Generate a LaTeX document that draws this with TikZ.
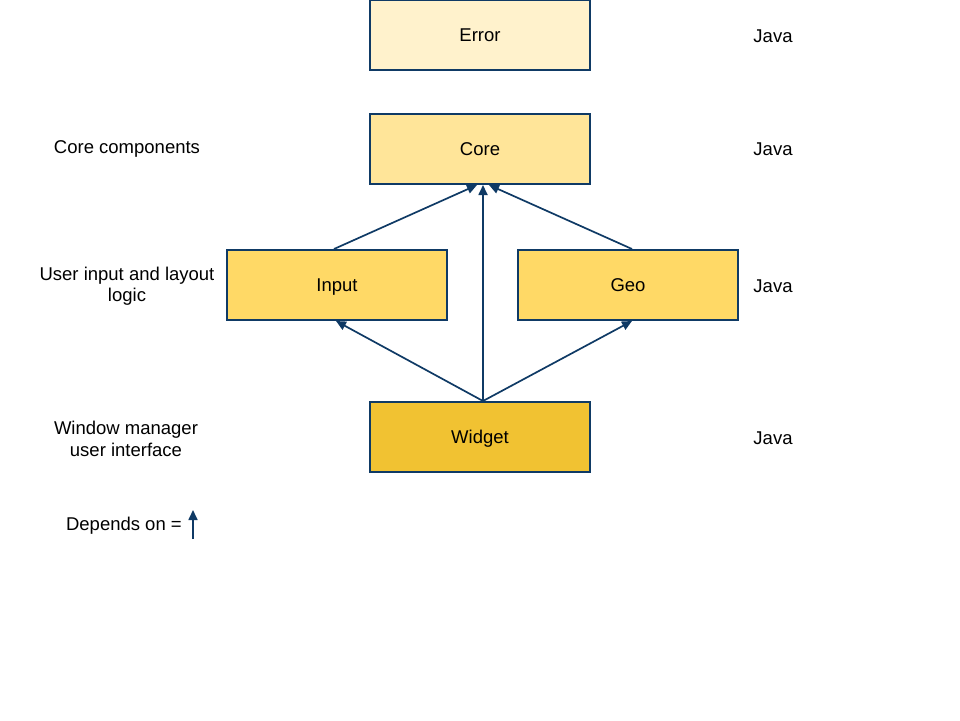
\documentclass[tikz,border=0pt]{standalone}
\usepackage{fontspec}
\setmainfont{Liberation Sans}
\usetikzlibrary{arrows.meta}
\definecolor{bordc}{HTML}{0F3A65}
\definecolor{errc}{HTML}{FFF2CC}
\definecolor{corec}{HTML}{FFE599}
\definecolor{midc}{HTML}{FFD966}
\definecolor{widc}{HTML}{F1C232}
\begin{document}
\begin{tikzpicture}[x=1pt,y=-1pt,
  box/.style={draw=bordc, line width=2pt, minimum width=220pt, minimum height=70pt, inner sep=0pt, text height=13pt, text depth=0pt, font=\fontsize{18.5}{22}\selectfont},
  lbl/.style={align=center, font=\fontsize{18.5}{21.5}\selectfont, inner sep=0pt},
  dep/.style={draw=bordc, line width=1.7pt, -{Triangle[length=10pt,width=9pt]}}]
\useasboundingbox (0,0) rectangle (960,720);
\node[box, fill=errc] (error) at (480,35) {Error};
\node[box, fill=corec] (core) at (480,148.5) {Core};
\node[box, fill=midc] (input) at (337,285) {Input};
\node[box, fill=midc] (geo) at (628,285) {Geo};
\node[box, fill=widc] (widget) at (480,437) {Widget};
\coordinate (wt) at (483,401);
\coordinate (ct) at (483,185);
\coordinate (cl) at (477,185);
\coordinate (cr) at (489,185);
\coordinate (it) at (334,249);
\coordinate (ib) at (336,321);
\coordinate (gt) at (632,249);
\coordinate (gb) at (632,321);
\draw[dep] (wt) -- (ib);
\draw[dep] (wt) -- (gb);
\draw[dep] (wt) -- (ct);
\draw[dep] (it) -- (cl);
\draw[dep] (gt) -- (cr);
\node[lbl] (lcore) at (127,149) {Core components};
\node[lbl] (linput) at (127,286) {User input and layout\\logic};
\node[lbl] (lwid) at (126,439) {Window manager\\user interface};
\node[lbl, anchor=east] (ldep) at (182,526) {Depends on =};
\coordinate (la) at (193,539);
\coordinate (lb) at (193,510);
\draw[dep] (la) -- (lb);
\node[lbl] (j1) at (773,36) {Java};
\node[lbl] (j2) at (773,149) {Java};
\node[lbl] (j3) at (773,286) {Java};
\node[lbl] (j4) at (773,438) {Java};
\end{tikzpicture}
\end{document}
